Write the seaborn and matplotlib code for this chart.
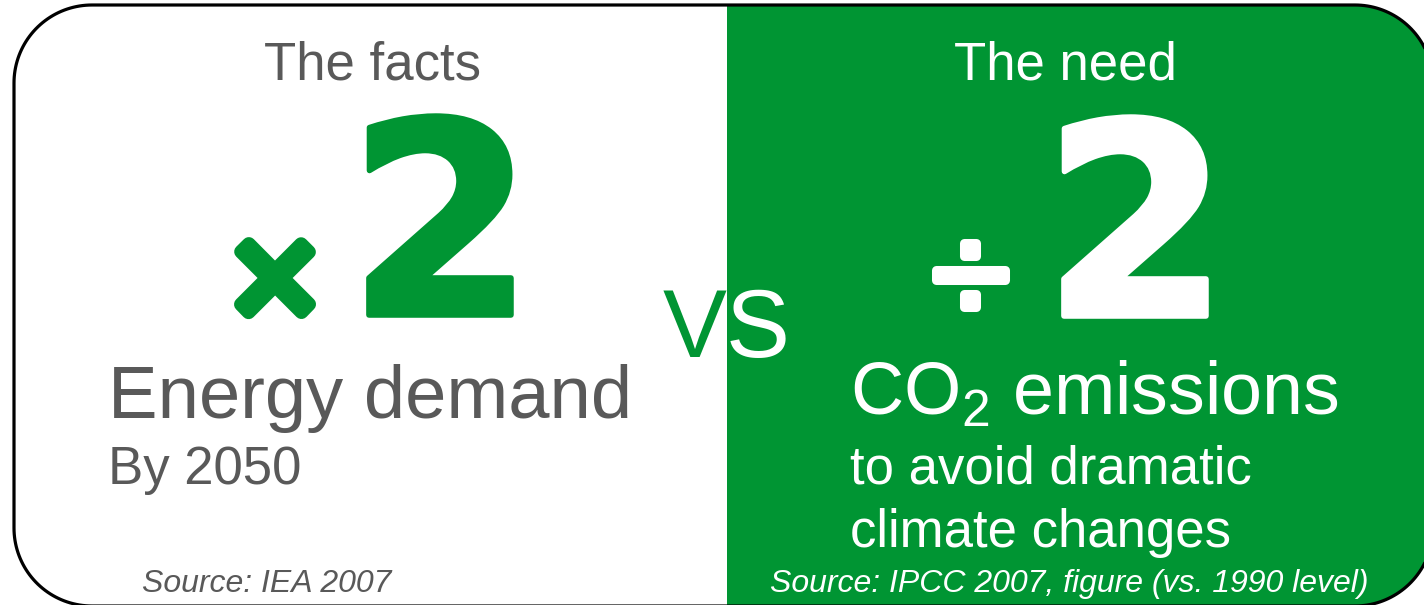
import matplotlib
matplotlib.use("Agg")
import numpy as np
import matplotlib.pyplot as plt
from matplotlib.patches import Polygon, Rectangle
from matplotlib import patheffects as pe
import seaborn as sns

# content of the two panels
panel_titles = ["The facts", "The need"]
factor_signs = ["\u00d7", "\u00f7"]
factor_values = [2, 2]
headlines = ["Energy demand", "CO$_2$ emissions"]
sublines = [["By 2050"], ["to avoid dramatic", "climate changes"]]
sources = ["Source: IEA 2007", "Source: IPCC 2007, figure (vs. 1990 level)"]
middle_word = "VS"

GREEN = "#009533"
GREY = "#595959"
H = 605


def Y(y):
    # positions measured from the top of the picture
    return H - y


def rounded_rect(x0, y0, x1, y1, r, n=40):
    pts = []
    corners = [(x1 - r, y1 - r, 0), (x0 + r, y1 - r, 90),
               (x0 + r, y0 + r, 180), (x1 - r, y0 + r, 270)]
    for cx, cy, a0 in corners:
        a = np.radians(np.linspace(a0, a0 + 90, n))
        pts.extend(zip(cx + r * np.cos(a), cy + r * np.sin(a)))
    return np.array(pts)


def rounded(colour, lw):
    return [pe.withStroke(linewidth=lw, foreground=colour, capstyle="round",
                          joinstyle="round")]


sns.set_theme(style="white")
plt.rcParams["font.family"] = ["Liberation Sans", "DejaVu Sans"]
plt.rcParams["mathtext.fontset"] = "custom"
plt.rcParams["mathtext.rm"] = "Liberation Sans"

fig = plt.figure(figsize=(14.24, 6.05), dpi=100)
ax = fig.add_axes([0, 0, 1, 1])
ax.set_xlim(0, 1424)
ax.set_ylim(0, H)
ax.axis("off")

# rounded frame, runs off the right and bottom edges
verts = rounded_rect(14, Y(606), 1433, Y(5), 78)
frame = Polygon(verts, closed=True, facecolor="white", edgecolor="none", zorder=1)
ax.add_patch(frame)
green = Rectangle((727, -20), 720, 640, facecolor=GREEN, edgecolor="none", zorder=2)
ax.add_patch(green)
green.set_clip_path(frame)
ax.add_patch(Polygon(verts, closed=True, facecolor="none", edgecolor="black",
                     lw=2.3, zorder=3))

# left panel
ax.text(373, Y(80), panel_titles[0], color=GREY, fontsize=38, ha="center", va="baseline", zorder=5)
ax.text(275, Y(290), factor_signs[0], color=GREEN, fontsize=110,
        ha="center", va="center", zorder=5, path_effects=rounded(GREEN, 10))
ax.text(441, Y(315), str(factor_values[0]), color=GREEN, fontsize=193, fontweight="bold",
        ha="center", va="baseline", family="DejaVu Sans", zorder=5,
        path_effects=rounded(GREEN, 4))
ax.text(108, Y(418), headlines[0], color=GREY, fontsize=53.5, ha="left", va="baseline", zorder=5)
ax.text(108, Y(484), sublines[0][0], color=GREY, fontsize=38, ha="left", va="baseline", zorder=5)
ax.text(142, Y(592), sources[0], color=GREY, fontsize=23, style="italic",
        ha="left", va="baseline", zorder=5)

# right panel
ax.text(1065, Y(80), panel_titles[1], color="white", fontsize=38, ha="center", va="baseline", zorder=5)
ax.text(970, Y(285), factor_signs[1], color="white", fontsize=102,
        ha="center", va="center", zorder=5, path_effects=rounded("white", 6.5))
ax.text(1136, Y(316), str(factor_values[1]), color="white", fontsize=193, fontweight="bold",
        ha="center", va="baseline", family="DejaVu Sans", zorder=5,
        path_effects=rounded("white", 4))
ax.text(850, Y(415), headlines[1], color="white", fontsize=53, ha="left", va="baseline", zorder=5)
for i, line in enumerate(sublines[1]):
    ax.text(850, Y(483 + 64 * i), line, color="white", fontsize=38, ha="left",
            va="baseline", zorder=5)
ax.text(770, Y(592), sources[1], color="white", fontsize=23, style="italic",
        ha="left", va="baseline", zorder=5)

# "VS" straddles the split: green on white, white on green
for colour, x0, w in [(GREEN, 0, 727), ("white", 727, 697)]:
    t = ax.text(727, Y(357), middle_word, color=colour, fontsize=69, ha="center",
                va="baseline", zorder=6, clip_on=True)
    t.set_clip_path(Rectangle((x0, 0), w, H, transform=ax.transData))

fig.savefig("out.png", dpi=100)
